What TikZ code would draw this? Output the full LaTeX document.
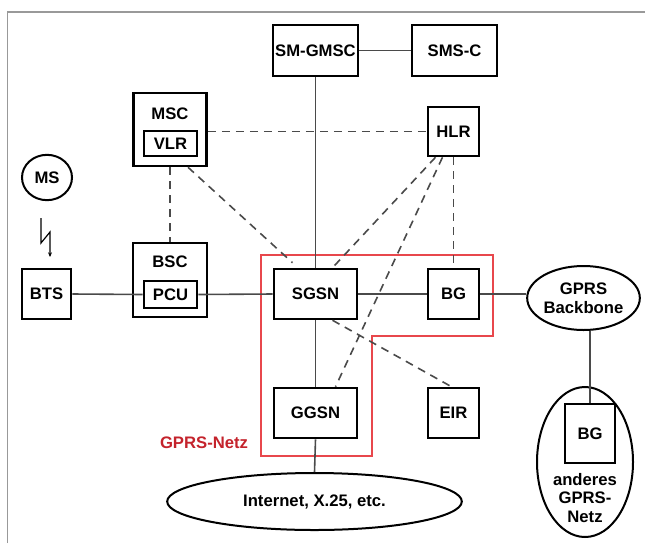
\documentclass[tikz,border=0pt]{standalone}
\usepackage{fontspec}
\setmainfont{Liberation Sans}
\usetikzlibrary{calc,shapes.geometric,arrows.meta}
\definecolor{netzrot}{HTML}{E8474C}
\definecolor{netztext}{HTML}{C4232C}
\definecolor{linie}{HTML}{4A4A4A}
\tikzset{
  box/.style={draw=black, line width=1.9pt, rectangle, inner sep=0pt},
  netz/.style={draw=black, line width=1.5pt, ellipse, inner sep=0pt, align=center},
  verb/.style={draw=linie, line width=1.2pt},
  sig/.style={draw=linie, line width=1.2pt, dash pattern=on 6pt off 4.5pt},
}
\begin{document}
\begin{tikzpicture}[x=0.75pt, y=-0.75pt, font=\fontsize{12.5}{14}\selectfont\bfseries]
		\useasboundingbox (0,0) rectangle (645,543);
		\draw[color=black!40, line width=1.2pt] (7.3,543) -- (7.3,11.7) -- (645,11.7);
		
		\node (smgmsc) [box, minimum width=63.75pt, minimum height=38.25pt] at (315.5,50.5) {SM-GMSC};
		\node (smsc) [box, minimum width=63.75pt, minimum height=38.25pt] at (454.5,50.5) {SMS-C};
		\node (hlr) [box, minimum width=38.25pt, minimum height=36.75pt] at (453.5,131.5) {HLR};
		\node (msc) [box, minimum width=54.75pt, minimum height=54.75pt] at (170,129.5) {};
		\node (msclabel) at ($(msc.north)+(0,22)$) {MSC};
		\node (vlr) [box, minimum width=39.75pt, minimum height=18.75pt] at (170.5,143.5) {VLR};
		\node (ms) [draw=black, line width=1.5pt, ellipse, minimum width=37.5pt, minimum height=34pt, inner sep=0pt] at (47,177.5) {MS};
		
		\node (bts) [box, minimum width=36.75pt, minimum height=37.5pt] at (46.5,294) {BTS};
		\node (bsc) [box, minimum width=55.5pt, minimum height=55.5pt] at (170,280) {};
		\node (bsclabel) at ($(bsc.north)+(0,20)$) {BSC};
		\node (pcu) [box, minimum width=39.75pt, minimum height=20.25pt] at (170.5,294.5) {PCU};
		\node (sgsn) [box, minimum width=62.25pt, minimum height=37.5pt] at (315.5,294) {SGSN};
		\node (bg) [box, minimum width=38.25pt, minimum height=37.5pt] at (453.5,294) {BG};
		\node (backbone) [netz, minimum width=72pt, minimum height=48pt] at (583.5,298) {GPRS\\Backbone};
		
		\node (ggsn) [box, minimum width=62.25pt, minimum height=37.5pt] at (315.5,413) {GGSN};
		\node (eir) [box, minimum width=38.25pt, minimum height=37.5pt] at (453.5,413) {EIR};
		\node (anderes) [netz, minimum width=72pt, minimum height=112.5pt] at (585,462) {};
		\node (bg2) [box, minimum width=37.5pt, minimum height=44.25pt] at (590,433.5) {BG};
		\node (anderestext) [align=center] at (585,498) {anderes\\GPRS-\\Netz};
		\node (internet) [netz, minimum width=221pt, minimum height=42.75pt] at (314.5,501.5) {Internet, X.25, etc.};
		
		\draw[color=netzrot, line width=1.2pt] (261,255) -- (493,255) -- (493,336) -- (372,336) -- (372,456) -- (261,456) -- cycle;
		\node (gprsnetz) [text=netztext] at (204,443) {GPRS-Netz};
		
		\draw[line width=0.9pt, -{Stealth[length=3.5pt,width=3pt]}] (41,218) -- (41,243) -- (50,232) -- (50,257);
		
		\draw[verb] (smgmsc.east) -- (smsc.west);
		\draw[verb] (smgmsc.south) -- (sgsn.north);
		\draw[verb] (bts.east) -- (pcu.west);
		\draw[verb] (pcu.east) -- (sgsn.west);
		\draw[verb] (sgsn.east) -- (bg.west);
		\draw[verb] (bg.east) -- (backbone.west |- bg.east);
		\draw[verb] (bg2.north |- backbone.south) -- (bg2.north);
		\draw[verb] (sgsn.south) -- (ggsn.north);
		\draw[verb] (ggsn.south) -- (internet.north);
		
		\draw[sig] (msc.east |- hlr.west) -- (hlr.west);
		\draw[sig] (msc.south) -- (bsc.north);
		\draw[sig] ($(msc.south)+(18,0)$) -- ($(sgsn.north)+(-23,-5)$);
		\draw[sig] ($(hlr.south)+(-18,0)$) -- ($(sgsn.north)+(17,0)$);
		\draw[sig] ($(hlr.south)+(-11,0)$) -- ($(ggsn.north)+(20,0)$);
		\draw[sig] (hlr.south) -- (bg.north);
		\draw[sig] ($(sgsn.south)+(17,0)$) -- ($(eir.north)+(-2,0)$);
		\end{tikzpicture}
\end{document}
